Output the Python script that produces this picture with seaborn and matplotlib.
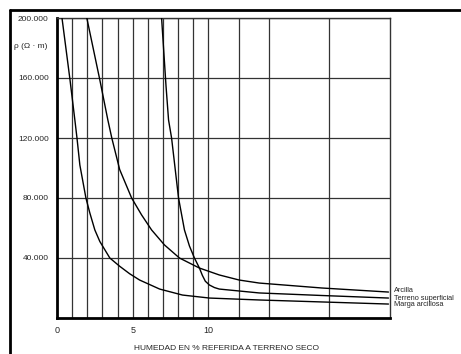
import matplotlib
matplotlib.use("Agg")
import matplotlib.pyplot as plt
import seaborn as sns
import pandas as pd
from matplotlib.lines import Line2D

# Data (humidity %, resistivity ohm*m)
marga_x = [0.33, 0.86, 1.18, 1.32, 1.51, 1.91, 2.17, 2.5, 2.83, 3.49, 4.14, 4.8, 5.46, 6.78, 8.29, 10.07, 13.4, 17.5, 21.9]
marga_y = [200000, 158700, 132000, 120000, 102000, 80000, 70000, 58700, 51000, 40000, 34500, 29500, 25300, 19300, 15300, 13300, 12000, 10700, 9300]

arcilla_x = [1.97, 2.83, 3.36, 3.62, 4.14, 4.93, 5.59, 6.25, 7.1, 8.09, 9.41, 10.72, 12.04, 13.36, 17.5, 21.9]
arcilla_y = [200000, 158700, 132000, 120000, 99000, 80000, 68700, 58700, 48700, 40000, 33300, 28700, 25300, 23300, 20000, 17300]

terreno_x = [6.91, 7.2, 7.37, 7.57, 8.03, 8.42, 8.75, 9.08, 9.41, 9.6, 9.8, 10.07, 10.4, 10.72, 12.04, 13.36, 17.5, 21.9]
terreno_y = [200000, 155000, 132000, 120000, 80000, 58700, 48000, 40000, 33300, 28500, 24500, 22000, 20300, 19300, 18000, 16700, 15000, 13300]

series_names = ["Arcilla", "Terreno superficial", "Marga arcillosa"]
y_ticks = [40000, 80000, 120000, 160000, 200000]
y_tick_labels = ["40.000", "80.000", "120.000", "160.000", "200.000"]
x_ticks = [0, 5, 10]
x_tick_labels = ["0", "5", "10"]
x_grid = [1, 2, 3, 4, 5, 6, 7, 8, 9, 10, 12, 14, 18]

df = pd.concat([
    pd.DataFrame({"x": arcilla_x, "y": arcilla_y, "s": series_names[0]}),
    pd.DataFrame({"x": terreno_x, "y": terreno_y, "s": series_names[1]}),
    pd.DataFrame({"x": marga_x, "y": marga_y, "s": series_names[2]}),
])

sns.set_style("white")
plt.rcParams["font.family"] = ["Liberation Sans", "DejaVu Sans"]

fig = plt.figure(figsize=(4.61, 3.54), dpi=100)
ax = fig.add_axes([57 / 461, 36 / 354, 333 / 461, 300 / 354])

for xv in x_grid:
    ax.axvline(xv, color="#333333", lw=0.9, zorder=1)
for yv in y_ticks:
    ax.axhline(yv, color="#333333", lw=0.9, zorder=1)

for name in series_names:
    sub = df[df["s"] == name]
    sns.lineplot(data=sub, x="x", y="y", ax=ax, color="black", lw=1.0,
                 sort=False, estimator=None, legend=False, zorder=3)

ax.set_xlim(0, 22)
ax.set_ylim(0, 200000)
ax.set_xticks(x_ticks)
ax.set_xticklabels(x_tick_labels, fontsize=6.5)
ax.set_yticks(y_ticks)
ax.set_yticklabels(y_tick_labels, fontsize=6)
ax.tick_params(length=0, pad=6)
ax.set_xlabel("HUMEDAD EN % REFERIDA A TERRENO SECO", fontsize=6, labelpad=5)
ax.xaxis.set_label_coords(0.51, -0.09)
ax.set_ylabel("")

for side in ["left", "bottom"]:
    ax.spines[side].set_linewidth(2.0)
    ax.spines[side].set_color("black")
for side in ["top", "right"]:
    ax.spines[side].set_linewidth(1.0)
    ax.spines[side].set_color("#333333")

ax.text(-0.03, 0.905, "ρ (Ω · m)", transform=ax.transAxes, ha="right", va="center", fontsize=6)

# curve labels at right end
label_y = [291, 298, 305]
for name, py in zip(series_names, label_y):
    fig.text(394 / 461, 1 - py / 354, name, fontsize=5.3, ha="left", va="center")

# outer frame (left and top)
fig.add_artist(Line2D([10 / 461, 10 / 461], [0, 1 - 10 / 354], color="black", lw=2.0))
fig.add_artist(Line2D([10 / 461, 1], [1 - 10 / 354, 1 - 10 / 354], color="black", lw=2.0))

fig.savefig("out.png", dpi=100)
